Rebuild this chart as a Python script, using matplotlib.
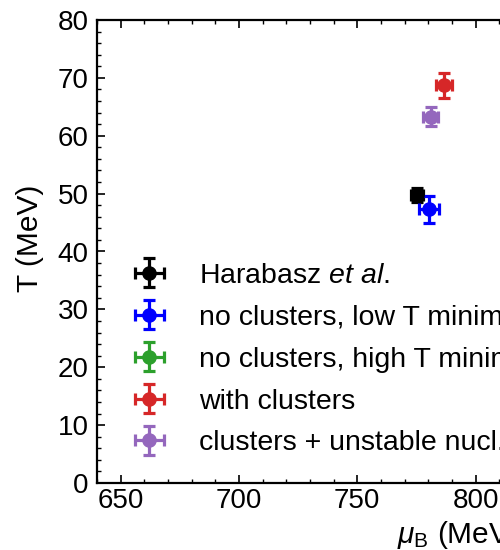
import matplotlib
matplotlib.use("Agg")
import matplotlib.pyplot as plt
from matplotlib.ticker import MultipleLocator

plt.rcParams['font.family'] = ['Liberation Sans', 'DejaVu Sans']
plt.rcParams['mathtext.fontset'] = 'custom'
plt.rcParams['mathtext.rm'] = 'Liberation Sans'
plt.rcParams['mathtext.it'] = 'Liberation Sans:italic'

# points (green one sits off the visible crop)
labels = ["Harabasz $\\it{et\\ al}$.", "no clusters, low T minimum",
          "no clusters, high T minimum", "with clusters",
          "clusters + unstable nucl."]
colors = ["black", "#0000ff", "#2ca02c", "#d62728", "#9467bd"]
mu_B = [775.2, 780.4, 845.0, 786.8, 781.0]
T = [49.7, 47.3, 56.0, 68.7, 63.3]
mu_err = [2.5, 4.2, 4.0, 3.4, 3.2]
T_err = [1.2, 2.3, 2.0, 2.1, 1.6]

xmin, xmax = 640, 945

fig = plt.figure(figsize=(5, 5.5), dpi=100)
ax = fig.add_axes([97/500, 1-483/550, (xmax-xmin)*2.366/500, 463/550])

for i in range(len(labels)):
    ax.errorbar(mu_B[i], T[i], xerr=mu_err[i], yerr=T_err[i], fmt='o',
                color=colors[i], ms=9.5, elinewidth=2.3, capsize=4, capthick=2.3,
                label=labels[i])

ax.set_xlim(xmin, xmax)
ax.set_ylim(0, 80)
ax.xaxis.set_major_locator(MultipleLocator(50))
ax.xaxis.set_minor_locator(MultipleLocator(10))
ax.yaxis.set_major_locator(MultipleLocator(10))
ax.yaxis.set_minor_locator(MultipleLocator(2))
ax.tick_params(which='both', direction='in', top=True, right=True, labelsize=20)
ax.tick_params(axis='y', pad=6)
ax.tick_params(which='major', length=6, width=1.2)
ax.tick_params(which='minor', length=3, width=1.0)
for s in ax.spines.values():
    s.set_linewidth(1.6)

ax.set_xlabel("$\\mu_{\\rm B}$ (MeV)", fontsize=21.5, labelpad=4)
ax.set_ylabel("T (MeV)", fontsize=21.5, labelpad=10, y=0.528)

ax.legend(loc='lower left', bbox_to_anchor=(0.014, 0.002), frameon=False,
          fontsize=20.5, handlelength=1.17, handletextpad=1.15, labelspacing=0.56)

fig.savefig("out.png", dpi=100)
